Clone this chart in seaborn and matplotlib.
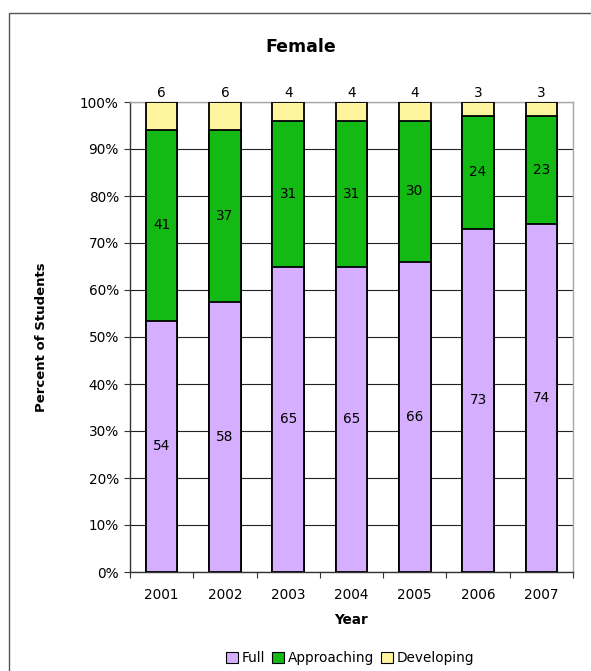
"""
Female - percent of students by level, 100% stacked bars (2001-2007).
"""

import matplotlib.pyplot as plt
import matplotlib.ticker as mticker
import numpy as np
import pandas as pd
import seaborn as sns
from matplotlib.patches import Patch, Rectangle

years = ["2001", "2002", "2003", "2004", "2005", "2006", "2007"]
full = [54, 58, 65, 65, 66, 73, 74]
approaching = [41, 37, 31, 31, 30, 24, 23]
developing = [6, 6, 4, 4, 4, 3, 3]

levels = ["Full", "Approaching", "Developing"]
colors = {"Full": "#D5AEFF", "Approaching": "#13BA13", "Developing": "#FFF59E"}

df = pd.DataFrame({"Year": years, "Full": full, "Approaching": approaching,
                   "Developing": developing})

# les valeurs ne font pas toujours 100 : on normalise par annee
share = df[levels].div(df[levels].sum(axis=1), axis=0)
cum = share.cumsum(axis=1)

sns.set_style("white")
plt.rcParams["font.family"] = ["DejaVu Sans"]
plt.rcParams.update({"text.color": "black", "axes.labelcolor": "black",
                     "xtick.color": "black", "ytick.color": "black"})

W, H = 591, 671
fig = plt.figure(figsize=(W / 100, H / 100), dpi=100)
ax = fig.add_axes([130 / W, 1 - 572 / H, 443 / W, 470 / H])

# empilement : on dessine du haut vers le bas
for level in reversed(levels):
    sns.barplot(x=df["Year"], y=cum[level], order=years, color=colors[level],
                saturation=1, width=0.5, edgecolor="black", linewidth=1.3,
                errorbar=None, ax=ax, zorder=3)

# etiquettes de valeurs
for i in range(len(years)):
    for level in ["Full", "Approaching"]:
        yc = cum[level].iloc[i] - share[level].iloc[i] / 2
        ax.text(i, yc, str(df[level].iloc[i]), ha="center", va="center",
                fontsize=9.8, color="black", zorder=5)
    ax.annotate(str(df["Developing"].iloc[i]), (i, 1.0), xytext=(0, 1.5),
                textcoords="offset points", ha="center", va="bottom",
                fontsize=9.8, color="black", zorder=5, annotation_clip=False)

ax.set_xlim(-0.5, len(years) - 0.5)
ax.set_ylim(0, 1)
ax.set_yticks(np.arange(0, 1.01, 0.1))
ax.yaxis.set_major_formatter(mticker.PercentFormatter(1.0, decimals=0))
ax.set_axisbelow(True)
ax.yaxis.grid(True, color="#222222", linewidth=0.8)
ax.set_xlabel("")
ax.set_ylabel("")

ax.tick_params(axis="y", which="major", left=True, length=4, width=0.8,
               color="#333333", labelcolor="black", labelsize=9.8, pad=4)
ax.tick_params(axis="x", which="major", bottom=False, labelcolor="black",
               labelsize=9.8, pad=8)
ax.set_xticks(np.arange(-0.5, len(years), 1.0), minor=True)
ax.tick_params(axis="x", which="minor", bottom=True, length=4, width=0.8,
               color="#333333")

for side in ["left", "bottom"]:
    ax.spines[side].set_color("#333333")
    ax.spines[side].set_linewidth(1.0)
for side in ["top", "right"]:
    ax.spines[side].set_visible(True)
    ax.spines[side].set_color("#A8A8A8")
    ax.spines[side].set_linewidth(1.0)

fig.text(301 / W, 1 - 47 / H, "Female", ha="center", va="center",
         fontsize=12.5, fontweight="bold", color="black")
fig.text(42 / W, 1 - 337 / H, "Percent of Students", ha="center", va="center",
         rotation=90, fontsize=9.5, fontweight="bold", color="black")
fig.text(351 / W, 1 - 620 / H, "Year", ha="center", va="center",
         fontsize=9.8, fontweight="bold", color="black")

handles = [Patch(facecolor=colors[lv], edgecolor="black", linewidth=0.8, label=lv)
           for lv in levels]
fig.legend(handles=handles, loc="center", bbox_to_anchor=(350 / W, 1 - 658 / H),
           ncol=3, frameon=False, fontsize=9.8, handlelength=0.9,
           handleheight=0.9, handletextpad=0.25, columnspacing=0.5,
           labelcolor="black")

# cadre exterieur de la zone graphique
fig.patches.append(Rectangle((9 / W, -0.1), 1.2, 1 - 13 / H + 0.1,
                             transform=fig.transFigure, fill=False,
                             edgecolor="#555555", linewidth=1.0))

plt.savefig("out.png", dpi=100)
plt.close()
